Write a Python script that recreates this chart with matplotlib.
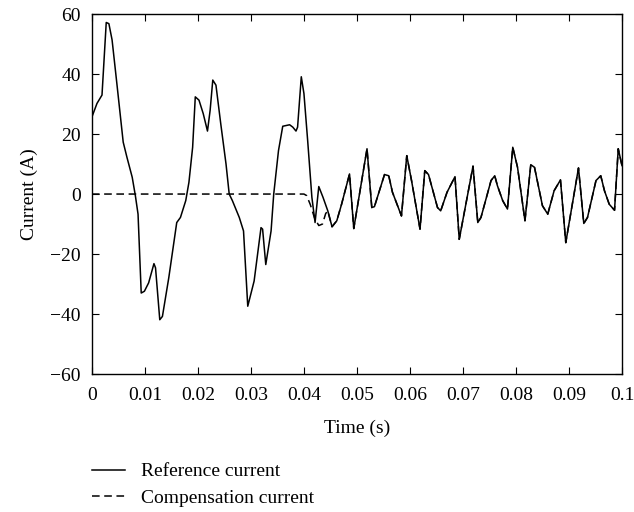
import matplotlib
matplotlib.use("Agg")
import matplotlib.pyplot as plt

plt.rcParams['font.family'] = ['Liberation Serif', 'DejaVu Serif']

# reference current
ref_t = [0.0, 0.00095, 0.0019, 0.0027, 0.0032, 0.0038, 0.0047, 0.0059, 0.0066, 0.0076,
         0.0082, 0.0087, 0.0093, 0.0099, 0.0107, 0.0117, 0.012, 0.0128, 0.0133, 0.0145,
         0.016, 0.0167, 0.0177, 0.0183, 0.019, 0.0195, 0.0202, 0.021, 0.0218, 0.0223,
         0.0228, 0.0234, 0.0243, 0.0253, 0.0259, 0.0265, 0.0278, 0.0286, 0.0294, 0.0306,
         0.0319, 0.0322, 0.0328, 0.0338, 0.0343, 0.0352, 0.036, 0.0373, 0.0379, 0.0385,
         0.0388, 0.0395, 0.04, 0.0407, 0.0415, 0.0421, 0.0428, 0.0436, 0.0445, 0.0453,
         0.0462, 0.0471, 0.0486, 0.0494, 0.0519, 0.0528, 0.0533, 0.0552, 0.056, 0.0567,
         0.0584, 0.0594, 0.0603, 0.0619, 0.0628, 0.0635, 0.0652, 0.0658, 0.067, 0.0685,
         0.0693, 0.0719, 0.0728, 0.0734, 0.0753, 0.076, 0.0765, 0.0775, 0.0784, 0.0794,
         0.0803, 0.0817, 0.0828, 0.0835, 0.085, 0.086, 0.0872, 0.0884, 0.0894, 0.0918,
         0.0928, 0.0935, 0.0951, 0.096, 0.0967, 0.0976, 0.0986, 0.0993, 0.1]
ref_v = [25.7, 30.2, 33.0, 57.2, 56.8, 51.4, 36.9, 17.3, 12.3, 5.6,
         -0.6, -6.7, -33.0, -32.4, -29.6, -23.2, -24.6, -41.9, -40.8, -27.9,
         -9.5, -7.8, -2.2, 3.9, 15.6, 32.4, 31.3, 26.8, 21.0, 27.9,
         38.0, 36.3, 23.5, 10.0, 0.0, -2.2, -7.8, -12.3, -37.4, -29.0,
         -11.2, -11.7, -23.5, -12.3, 0.0, 14.5, 22.6, 23.1, 22.3, 21.0,
         22.3, 39.1, 33.5, 17.9, -1.1, -9.5, 2.5, -1.1, -5.6, -10.9,
         -8.9, -3.4, 6.7, -11.5, 15.1, -4.5, -4.2, 6.5, 6.1, 0.6,
         -7.3, 12.8, 4.5, -11.7, 7.8, 6.5, -4.5, -5.6, 0.6, 5.8,
         -15.1, 9.3, -9.5, -7.8, 4.5, 6.1, 2.8, -2.2, -5.0, 15.6,
         8.9, -8.9, 9.8, 8.9, -3.9, -6.7, 1.1, 4.7, -16.2, 8.7,
         -9.8, -7.8, 4.5, 6.1, 1.1, -3.4, -5.4, 15.1, 9.5]

# compensation current: zero before switching on, then follows the reference
comp_start_t = [0.0, 0.04, 0.0405, 0.0412, 0.042, 0.0428, 0.0435, 0.0441]
comp_start_v = [0.0, 0.0, -0.5, -3.5, -8.0, -10.5, -10.0, -6.5]
switch_t = 0.0445

comp_t = comp_start_t + [t for t in ref_t if t >= switch_t]
comp_v = comp_start_v + [v for t, v in zip(ref_t, ref_v) if t >= switch_t]

x_ticks = [0, 0.01, 0.02, 0.03, 0.04, 0.05, 0.06, 0.07, 0.08, 0.09, 0.1]
x_labels = ['0', '0.01', '0.02', '0.03', '0.04', '0.05', '0.06', '0.07', '0.08', '0.09', '0.1']
y_ticks = [-60, -40, -20, 0, 20, 40, 60]
y_labels = ['\u221260', '\u221240', '\u221220', '0', '20', '40', '60']

fs = 14

fig = plt.figure(figsize=(6.34, 5.12), dpi=100)
ax = fig.add_axes([0.145, 0.2695, 0.836, 0.703])

ax.plot(ref_t, ref_v, color='black', lw=1.1, label='Reference current')
ax.plot(comp_t, comp_v, color='black', lw=1.1, ls=(0, (5, 3)), label='Compensation current')

ax.set_xlim(0, 0.1)
ax.set_ylim(-60, 60)
ax.set_xticks(x_ticks)
ax.set_xticklabels(x_labels)
ax.set_yticks(y_ticks)
ax.set_yticklabels(y_labels)
ax.tick_params(direction='in', top=True, right=True, length=5, width=0.8,
               labelsize=fs)
ax.tick_params(axis='x', pad=9)
ax.tick_params(axis='y', pad=8)
for s in ax.spines.values():
    s.set_linewidth(1.0)

ax.set_xlabel('Time (s)', fontsize=fs, labelpad=12)
ax.set_ylabel('Current (A)', fontsize=fs, labelpad=9)

fig.legend(loc='upper left', bbox_to_anchor=(0.145, 0.096), frameon=False,
           fontsize=fs, handlelength=1.7, handletextpad=0.8, labelspacing=0.45,
           borderpad=0, borderaxespad=0)

fig.savefig('out.png', dpi=100)
